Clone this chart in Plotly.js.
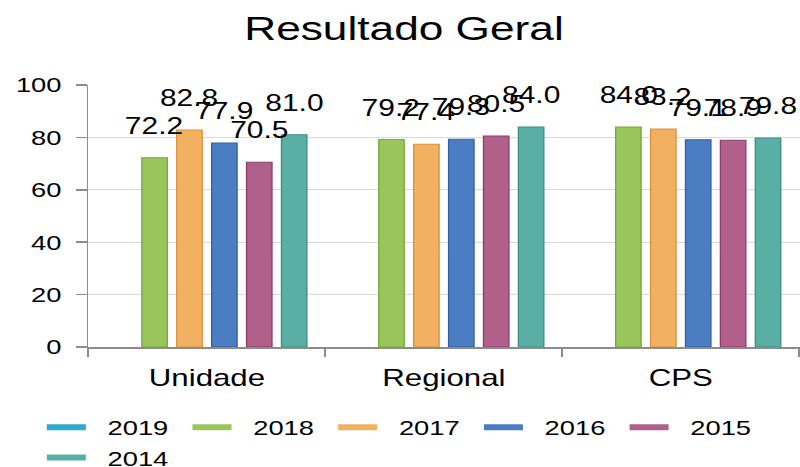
<!DOCTYPE html>
<html>
<head>
<meta charset="utf-8">
<script src="https://cdn.plot.ly/plotly-3.0.1.min.js"></script>
<style>
  html, body { margin: 0; padding: 0; overflow: hidden; background: #fff; }
  #wrap { width: 800px; height: 467px; overflow: hidden; }
  #chart { width: 615px; height: 467px; transform: scaleX(1.3008); transform-origin: 0 0; }
</style>
</head>
<body>
<div id="wrap"><div id="chart"></div></div>
<script>
// ---- data ----
const categories = ['Unidade', 'Regional', 'CPS'];
const years = ['2019', '2018', '2017', '2016', '2015', '2014'];
const v2019 = [null, null, null];
const v2018 = [72.2, 79.2, 84.0];
const v2017 = [82.8, 77.4, 83.2];
const v2016 = [77.9, 79.3, 79.1];
const v2015 = [70.5, 80.5, 78.9];
const v2014 = [81.0, 84.0, 79.8];
const yTicks = [0, 20, 40, 60, 80, 100];

// ---- styles ----
const fills   = ['#2eaac6', '#98c65a', '#f2b160', '#4a7dc2', '#b0608a', '#5aafa5'];
const borders = ['#1f8aa3', '#76a83c', '#d8913a', '#30609f', '#8c3d66', '#3e8c82'];
const series = [v2019, v2018, v2017, v2016, v2015, v2014];

const FONT = 'Liberation Sans, Arial, sans-serif';
const W = 615, H = 467;
const margin = {l: 68, r: 0, t: 85, b: 120, pad: 0, autoexpand: false};
const bargap = 0.116, bargroupgap = 0.27;

const traces = [];
series.forEach((vals, i) => {
  traces.push({
    type: 'bar', x: categories, y: vals, name: years[i],
    marker: {color: fills[i], line: {color: borders[i], width: 1}},
    showlegend: false, hoverinfo: 'skip'
  });
});
// legend entries drawn as lines (like the reference)
series.forEach((vals, i) => {
  traces.push({
    type: 'scatter', mode: 'lines', x: [null], y: [null],
    name: '\u00a0\u00a0' + years[i],
    line: {color: fills[i], width: 6}, showlegend: true, hoverinfo: 'skip'
  });
});

// value labels above bars
const plotW = W - margin.l - margin.r;
const plotH = H - margin.t - margin.b;
const slot = plotW / categories.length * (1 - bargap) / series.length;
const annotations = [];
series.forEach((vals, i) => {
  vals.forEach((v, j) => {
    if (v === null) return;
    annotations.push({
      x: categories[j], y: v, xref: 'x', yref: 'y',
      text: v.toFixed(1), showarrow: false,
      xshift: (i - (series.length - 1) / 2) * slot,
      yanchor: 'bottom', yshift: 17,
      font: {family: FONT, size: 23, color: '#000'}
    });
  });
});

const layout = {
  width: W, height: H, margin: margin,
  paper_bgcolor: '#fff', plot_bgcolor: '#fff',
  font: {family: FONT, color: '#000'},
  title: {text: 'Resultado Geral', font: {family: FONT, size: 34, color: '#000'},
          x: 0.505, xref: 'container', y: 0.94, yref: 'container', yanchor: 'middle'},
  barmode: 'group', bargap: bargap, bargroupgap: bargroupgap,
  xaxis: {
    type: 'category', automargin: false,
    showline: true, linecolor: '#8c8c8c', linewidth: 1.5,
    ticks: 'outside', tickson: 'boundaries', ticklen: 8, tickcolor: '#8c8c8c', tickwidth: 1.5,
    tickfont: {family: FONT, size: 24, color: '#000'}, ticklabelstandoff: 9,
    showgrid: false, zeroline: false
  },
  yaxis: {
    range: [0, 100], tickvals: yTicks, automargin: false,
    showline: true, linecolor: '#8c8c8c', linewidth: 1.5,
    ticks: 'outside', ticklen: 8, tickcolor: '#8c8c8c', tickwidth: 1.5,
    tickfont: {family: FONT, size: 21, color: '#000'}, ticklabelstandoff: 7,
    showgrid: true, gridcolor: '#d9d9d9', gridwidth: 1, zeroline: false
  },
  legend: {
    orientation: 'h', xref: 'paper', yref: 'paper',
    x: (31 - margin.l) / plotW, y: -(407 - (H - margin.b)) / plotH,
    xanchor: 'left', yanchor: 'top',
    font: {family: FONT, size: 21, color: '#000'},
    itemwidth: 30, entrywidth: 67, entrywidthmode: 'pixels',
    bgcolor: 'rgba(0,0,0,0)', tracegroupgap: 0
  },
  annotations: annotations
};

Plotly.newPlot('chart', traces, layout, {displayModeBar: false, staticPlot: true});
</script>
</body>
</html>
